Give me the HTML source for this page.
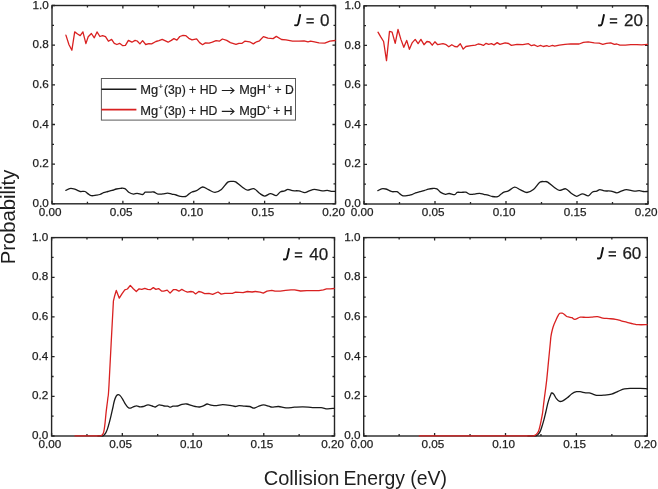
<!DOCTYPE html><html><head><meta charset="utf-8"><style>html,body{margin:0;padding:0;background:#fff;}svg{display:block;will-change:transform;} text{font-family:"Liberation Sans", sans-serif;fill:#1e1e1e;} .tl{stroke:#1e1e1e;stroke-width:0.25px;} .lg{stroke:#1e1e1e;stroke-width:0.2px;}</style></head><body>
<svg width="658" height="489" viewBox="0 0 658 489">
<rect width="658" height="489" fill="#fff"/>
<path d="M52.00 203.80v-3.00M52.00 5.50v3.00M87.44 203.80v-2.00M87.44 5.50v2.00M122.88 203.80v-3.00M122.88 5.50v3.00M158.31 203.80v-2.00M158.31 5.50v2.00M193.75 203.80v-3.00M193.75 5.50v3.00M229.19 203.80v-2.00M229.19 5.50v2.00M264.62 203.80v-3.00M264.62 5.50v3.00M300.06 203.80v-2.00M300.06 5.50v2.00M335.50 203.80v-3.00M335.50 5.50v3.00M52.00 203.80h3.00M335.50 203.80h-3.00M52.00 183.97h2.00M335.50 183.97h-2.00M52.00 164.14h3.00M335.50 164.14h-3.00M52.00 144.31h2.00M335.50 144.31h-2.00M52.00 124.48h3.00M335.50 124.48h-3.00M52.00 104.65h2.00M335.50 104.65h-2.00M52.00 84.82h3.00M335.50 84.82h-3.00M52.00 64.99h2.00M335.50 64.99h-2.00M52.00 45.16h3.00M335.50 45.16h-3.00M52.00 25.33h2.00M335.50 25.33h-2.00M52.00 5.50h3.00M335.50 5.50h-3.00" stroke="#252525" stroke-width="1.3" fill="none"/>
<rect x="52.00" y="5.50" width="283.50" height="198.30" fill="none" stroke="#252525" stroke-width="1.40"/>
<path d="M65.90 190.40C66.52 190.10 68.28 188.87 69.60 188.60C70.92 188.33 72.57 188.55 73.80 188.80C75.03 189.05 75.93 189.65 77.00 190.10C78.07 190.55 78.87 191.27 80.20 191.50C81.53 191.73 83.67 191.10 85.00 191.50C86.33 191.90 87.13 193.20 88.20 193.90C89.27 194.60 90.07 195.48 91.40 195.70C92.73 195.92 94.78 195.40 96.20 195.20C97.62 195.00 98.67 194.93 99.90 194.50C101.13 194.07 102.27 193.10 103.60 192.60C104.93 192.10 106.48 191.87 107.90 191.50C109.32 191.13 110.68 190.82 112.10 190.40C113.52 189.98 114.98 189.35 116.40 189.00C117.82 188.65 119.18 188.37 120.60 188.30C122.02 188.23 123.55 187.95 124.90 188.60C126.25 189.25 127.27 191.28 128.70 192.20C130.13 193.12 132.08 193.92 133.50 194.10C134.92 194.28 135.68 193.23 137.20 193.30C138.72 193.37 141.27 194.68 142.60 194.50C143.93 194.32 144.05 192.58 145.20 192.20C146.35 191.82 148.08 192.23 149.50 192.20C150.92 192.17 152.28 191.68 153.70 192.00C155.12 192.32 156.48 193.78 158.00 194.10C159.52 194.42 161.20 194.07 162.80 193.90C164.40 193.73 166.10 193.07 167.60 193.10C169.10 193.13 170.38 193.78 171.80 194.10C173.22 194.42 174.68 194.63 176.10 195.00C177.52 195.37 178.72 196.05 180.30 196.30C181.88 196.55 184.18 196.87 185.60 196.50C187.02 196.13 187.73 194.85 188.80 194.10C189.87 193.35 190.73 192.57 192.00 192.00C193.27 191.43 194.63 191.53 196.40 190.70C198.17 189.87 200.57 187.17 202.60 187.00C204.63 186.83 206.53 188.82 208.60 189.70C210.67 190.58 212.87 192.35 215.00 192.30C217.13 192.25 219.27 191.10 221.40 189.40C223.53 187.70 225.93 183.43 227.80 182.10C229.67 180.77 231.28 181.43 232.60 181.40C233.92 181.37 234.12 180.97 235.70 181.90C237.28 182.83 240.15 185.62 242.10 187.00C244.05 188.38 245.45 189.93 247.40 190.20C249.35 190.47 251.78 188.08 253.80 188.60C255.82 189.12 257.68 192.05 259.50 193.30C261.32 194.55 262.87 196.05 264.70 196.10C266.53 196.15 268.57 193.68 270.50 193.60C272.43 193.52 274.68 195.87 276.30 195.60C277.92 195.33 278.80 192.78 280.20 192.00C281.60 191.22 283.42 191.33 284.70 190.90C285.98 190.47 286.60 189.43 287.90 189.40C289.20 189.37 290.67 190.45 292.50 190.70C294.33 190.95 296.87 190.58 298.90 190.90C300.93 191.22 302.97 192.60 304.70 192.60C306.43 192.60 307.68 191.43 309.30 190.90C310.92 190.37 312.25 189.40 314.40 189.40C316.55 189.40 320.05 190.73 322.20 190.90C324.35 191.07 325.80 190.33 327.30 190.40C328.80 190.47 329.85 191.15 331.20 191.30C332.55 191.45 334.70 191.30 335.40 191.30" fill="none" stroke="#1a1a1a" stroke-width="1.30" stroke-linejoin="round" stroke-linecap="round"/>
<polyline points="65.9,35.1 69.0,44.7 71.9,50.2 74.7,31.9 77.6,34.0 80.2,35.6 82.9,31.9 85.9,43.6 88.2,36.7 91.4,33.5 94.3,37.8 97.0,31.9 99.9,36.5 102.6,35.6 105.5,36.7 108.4,41.2 111.6,39.4 114.3,43.3 116.9,44.5 119.6,43.3 122.8,45.7 125.4,45.4 128.4,40.4 131.9,42.2 135.1,40.4 137.2,41.0 139.9,43.9 142.6,40.7 145.7,44.5 148.9,43.6 151.6,43.9 155.9,41.5 159.0,40.7 162.2,39.4 164.9,40.7 168.1,42.2 171.3,40.4 173.9,38.6 176.9,40.1 179.8,36.5 183.0,35.4 185.6,35.6 188.8,38.3 192.0,39.9 196.6,38.8 199.6,42.6 202.6,44.7 205.4,42.9 209.1,43.1 212.3,42.2 216.1,40.7 219.3,41.2 222.4,39.0 226.7,40.4 230.4,42.6 236.0,44.4 238.9,43.3 242.1,43.3 244.8,41.2 249.6,41.8 253.3,43.9 256.5,41.8 259.5,40.8 263.4,36.6 267.9,38.2 273.1,38.6 276.3,36.4 281.5,39.5 286.0,39.9 292.5,41.1 298.9,41.1 304.1,40.8 308.0,41.8 310.6,41.1 314.4,41.8 319.0,42.8 324.8,43.1 329.9,41.1 335.1,40.5" fill="none" stroke="#d92121" stroke-width="1.30" stroke-linejoin="round" stroke-linecap="round"/>
<text class="tl" x="48.70" y="206.90" font-size="11.7" text-anchor="end">0.0</text>
<text class="tl" x="48.70" y="167.24" font-size="11.7" text-anchor="end">0.2</text>
<text class="tl" x="48.70" y="127.58" font-size="11.7" text-anchor="end">0.4</text>
<text class="tl" x="48.70" y="87.92" font-size="11.7" text-anchor="end">0.6</text>
<text class="tl" x="48.70" y="48.26" font-size="11.7" text-anchor="end">0.8</text>
<text class="tl" x="48.70" y="8.60" font-size="11.7" text-anchor="end">1.0</text>
<text class="tl" x="50.20" y="216.10" font-size="11.7" text-anchor="middle">0.00</text>
<text class="tl" x="121.08" y="216.10" font-size="11.7" text-anchor="middle">0.05</text>
<text class="tl" x="191.95" y="216.10" font-size="11.7" text-anchor="middle">0.10</text>
<text class="tl" x="262.82" y="216.10" font-size="11.7" text-anchor="middle">0.15</text>
<text class="tl" x="333.70" y="216.10" font-size="11.7" text-anchor="middle">0.20</text>
<path d="M364.00 204.00v-3.00M364.00 5.80v3.00M399.50 204.00v-2.00M399.50 5.80v2.00M435.00 204.00v-3.00M435.00 5.80v3.00M470.50 204.00v-2.00M470.50 5.80v2.00M506.00 204.00v-3.00M506.00 5.80v3.00M541.50 204.00v-2.00M541.50 5.80v2.00M577.00 204.00v-3.00M577.00 5.80v3.00M612.50 204.00v-2.00M612.50 5.80v2.00M648.00 204.00v-3.00M648.00 5.80v3.00M364.00 204.00h3.00M648.00 204.00h-3.00M364.00 184.18h2.00M648.00 184.18h-2.00M364.00 164.36h3.00M648.00 164.36h-3.00M364.00 144.54h2.00M648.00 144.54h-2.00M364.00 124.72h3.00M648.00 124.72h-3.00M364.00 104.90h2.00M648.00 104.90h-2.00M364.00 85.08h3.00M648.00 85.08h-3.00M364.00 65.26h2.00M648.00 65.26h-2.00M364.00 45.44h3.00M648.00 45.44h-3.00M364.00 25.62h2.00M648.00 25.62h-2.00M364.00 5.80h3.00M648.00 5.80h-3.00" stroke="#252525" stroke-width="1.3" fill="none"/>
<rect x="364.00" y="5.80" width="284.00" height="198.20" fill="none" stroke="#252525" stroke-width="1.40"/>
<path d="M377.90 190.60C378.52 190.30 380.28 189.07 381.60 188.80C382.92 188.53 384.57 188.75 385.80 189.00C387.03 189.25 387.93 189.85 389.00 190.30C390.07 190.75 390.87 191.47 392.20 191.70C393.53 191.93 395.67 191.30 397.00 191.70C398.33 192.10 399.13 193.40 400.20 194.10C401.27 194.80 402.07 195.68 403.40 195.90C404.73 196.12 406.78 195.60 408.20 195.40C409.62 195.20 410.67 195.13 411.90 194.70C413.13 194.27 414.27 193.30 415.60 192.80C416.93 192.30 418.48 192.07 419.90 191.70C421.32 191.33 422.68 191.02 424.10 190.60C425.52 190.18 426.98 189.55 428.40 189.20C429.82 188.85 431.18 188.57 432.60 188.50C434.02 188.43 435.55 188.15 436.90 188.80C438.25 189.45 439.27 191.48 440.70 192.40C442.13 193.32 444.08 194.12 445.50 194.30C446.92 194.48 447.68 193.43 449.20 193.50C450.72 193.57 453.27 194.88 454.60 194.70C455.93 194.52 456.05 192.78 457.20 192.40C458.35 192.02 460.08 192.43 461.50 192.40C462.92 192.37 464.28 191.88 465.70 192.20C467.12 192.52 468.48 193.98 470.00 194.30C471.52 194.62 473.20 194.27 474.80 194.10C476.40 193.93 478.10 193.27 479.60 193.30C481.10 193.33 482.38 193.98 483.80 194.30C485.22 194.62 486.68 194.83 488.10 195.20C489.52 195.57 490.72 196.25 492.30 196.50C493.88 196.75 496.18 197.07 497.60 196.70C499.02 196.33 499.73 195.05 500.80 194.30C501.87 193.55 502.73 192.77 504.00 192.20C505.27 191.63 506.63 191.73 508.40 190.90C510.17 190.07 512.57 187.37 514.60 187.20C516.63 187.03 518.53 189.02 520.60 189.90C522.67 190.78 524.87 192.55 527.00 192.50C529.13 192.45 531.27 191.30 533.40 189.60C535.53 187.90 537.93 183.63 539.80 182.30C541.67 180.97 543.28 181.63 544.60 181.60C545.92 181.57 546.12 181.17 547.70 182.10C549.28 183.03 552.15 185.82 554.10 187.20C556.05 188.58 557.45 190.13 559.40 190.40C561.35 190.67 563.78 188.28 565.80 188.80C567.82 189.32 569.68 192.25 571.50 193.50C573.32 194.75 574.87 196.25 576.70 196.30C578.53 196.35 580.57 193.88 582.50 193.80C584.43 193.72 586.68 196.07 588.30 195.80C589.92 195.53 590.80 192.98 592.20 192.20C593.60 191.42 595.42 191.53 596.70 191.10C597.98 190.67 598.60 189.63 599.90 189.60C601.20 189.57 602.67 190.65 604.50 190.90C606.33 191.15 608.87 190.78 610.90 191.10C612.93 191.42 614.97 192.80 616.70 192.80C618.43 192.80 619.68 191.63 621.30 191.10C622.92 190.57 624.25 189.60 626.40 189.60C628.55 189.60 632.05 190.93 634.20 191.10C636.35 191.27 637.80 190.53 639.30 190.60C640.80 190.67 641.85 191.35 643.20 191.50C644.55 191.65 646.70 191.50 647.40 191.50" fill="none" stroke="#1a1a1a" stroke-width="1.30" stroke-linejoin="round" stroke-linecap="round"/>
<polyline points="378.0,32.2 380.6,36.7 383.6,41.5 386.5,60.6 389.5,31.4 392.1,32.2 395.2,43.3 398.0,29.5 400.9,39.4 403.8,47.3 406.7,40.4 409.4,49.3 412.3,42.6 415.2,39.4 418.1,43.6 420.9,39.4 424.0,44.7 426.9,41.5 429.6,42.0 432.2,45.2 434.9,41.8 437.7,44.7 443.0,43.6 446.2,44.7 448.8,46.8 451.8,44.7 454.7,46.5 457.3,46.8 460.3,43.8 463.2,49.1 465.9,46.5 471.2,45.7 475.4,45.1 478.1,44.0 480.7,44.4 483.4,45.4 486.1,43.3 488.7,44.4 491.4,43.6 494.0,44.9 497.2,42.6 499.9,44.4 505.1,42.8 508.6,43.5 511.4,45.4 517.1,44.3 522.8,44.6 528.5,43.7 531.4,45.7 534.2,44.8 537.6,46.5 540.5,45.4 543.3,46.5 546.8,45.7 549.0,46.5 552.5,45.4 554.7,46.2 559.3,45.1 565.0,44.3 570.7,43.9 579.1,44.0 583.4,42.4 588.2,41.9 594.3,42.8 599.2,43.1 602.8,44.3 606.5,43.4 610.7,42.8 614.4,44.3 616.8,44.0 619.8,45.2 625.3,45.2 630.8,44.6 636.9,44.6 641.7,44.8 647.5,44.3" fill="none" stroke="#d92121" stroke-width="1.30" stroke-linejoin="round" stroke-linecap="round"/>
<text class="tl" x="360.70" y="207.10" font-size="11.7" text-anchor="end">0.0</text>
<text class="tl" x="360.70" y="167.46" font-size="11.7" text-anchor="end">0.2</text>
<text class="tl" x="360.70" y="127.82" font-size="11.7" text-anchor="end">0.4</text>
<text class="tl" x="360.70" y="88.18" font-size="11.7" text-anchor="end">0.6</text>
<text class="tl" x="360.70" y="48.54" font-size="11.7" text-anchor="end">0.8</text>
<text class="tl" x="360.70" y="8.90" font-size="11.7" text-anchor="end">1.0</text>
<text class="tl" x="362.20" y="216.30" font-size="11.7" text-anchor="middle">0.00</text>
<text class="tl" x="433.20" y="216.30" font-size="11.7" text-anchor="middle">0.05</text>
<text class="tl" x="504.20" y="216.30" font-size="11.7" text-anchor="middle">0.10</text>
<text class="tl" x="575.20" y="216.30" font-size="11.7" text-anchor="middle">0.15</text>
<text class="tl" x="646.20" y="216.30" font-size="11.7" text-anchor="middle">0.20</text>
<path d="M51.60 436.00v-3.00M51.60 237.60v3.00M86.96 436.00v-2.00M86.96 237.60v2.00M122.32 436.00v-3.00M122.32 237.60v3.00M157.69 436.00v-2.00M157.69 237.60v2.00M193.05 436.00v-3.00M193.05 237.60v3.00M228.41 436.00v-2.00M228.41 237.60v2.00M263.78 436.00v-3.00M263.78 237.60v3.00M299.14 436.00v-2.00M299.14 237.60v2.00M334.50 436.00v-3.00M334.50 237.60v3.00M51.60 436.00h3.00M334.50 436.00h-3.00M51.60 416.16h2.00M334.50 416.16h-2.00M51.60 396.32h3.00M334.50 396.32h-3.00M51.60 376.48h2.00M334.50 376.48h-2.00M51.60 356.64h3.00M334.50 356.64h-3.00M51.60 336.80h2.00M334.50 336.80h-2.00M51.60 316.96h3.00M334.50 316.96h-3.00M51.60 297.12h2.00M334.50 297.12h-2.00M51.60 277.28h3.00M334.50 277.28h-3.00M51.60 257.44h2.00M334.50 257.44h-2.00M51.60 237.60h3.00M334.50 237.60h-3.00" stroke="#252525" stroke-width="1.3" fill="none"/>
<rect x="51.60" y="237.60" width="282.90" height="198.40" fill="none" stroke="#252525" stroke-width="1.40"/>
<path d="M98.00 435.90C98.42 435.90 99.83 435.90 100.50 435.90C101.17 435.90 101.53 435.92 102.00 435.90C102.47 435.88 102.70 436.25 103.30 435.80C103.90 435.35 104.92 434.32 105.60 433.20C106.28 432.08 106.78 430.87 107.40 429.10C108.02 427.33 108.68 424.90 109.30 422.60C109.92 420.30 110.48 417.90 111.10 415.30C111.72 412.70 112.47 409.38 113.00 407.00C113.53 404.62 113.77 402.80 114.30 401.00C114.83 399.20 115.58 397.27 116.20 396.20C116.82 395.13 117.38 394.73 118.00 394.60C118.62 394.47 119.13 394.65 119.90 395.40C120.67 396.15 121.68 397.63 122.60 399.10C123.52 400.57 124.48 402.82 125.40 404.20C126.32 405.58 127.25 406.75 128.10 407.40C128.95 408.05 129.55 408.23 130.50 408.10C131.45 407.97 132.78 406.98 133.80 406.60C134.82 406.22 135.57 405.77 136.60 405.80C137.63 405.83 138.90 406.68 140.00 406.80C141.10 406.92 141.87 406.82 143.20 406.50C144.53 406.18 146.50 404.98 148.00 404.90C149.50 404.82 150.97 405.65 152.20 406.00C153.43 406.35 154.25 407.18 155.40 407.00C156.55 406.82 157.68 405.07 159.10 404.90C160.52 404.73 162.47 405.78 163.90 406.00C165.33 406.22 166.63 406.00 167.70 406.20C168.77 406.40 169.42 407.20 170.30 407.20C171.18 407.20 171.75 406.40 173.00 406.20C174.25 406.00 176.30 406.30 177.80 406.00C179.30 405.70 180.50 404.73 182.00 404.40C183.50 404.07 185.28 403.83 186.80 404.00C188.32 404.17 189.68 404.98 191.10 405.40C192.52 405.82 193.88 406.23 195.30 406.50C196.72 406.77 198.18 407.13 199.60 407.00C201.02 406.87 202.55 406.20 203.80 405.70C205.05 405.20 205.92 404.10 207.10 404.00C208.28 403.90 209.30 404.82 210.90 405.10C212.50 405.38 214.75 405.77 216.70 405.70C218.65 405.63 220.38 404.75 222.60 404.70C224.82 404.65 227.88 405.10 230.00 405.40C232.12 405.70 233.80 406.45 235.30 406.50C236.80 406.55 237.48 405.75 239.00 405.70C240.52 405.65 242.62 406.07 244.40 406.20C246.18 406.33 248.12 406.18 249.70 406.50C251.28 406.82 252.48 408.10 253.90 408.10C255.32 408.10 256.60 407.03 258.20 406.50C259.80 405.97 261.73 404.95 263.50 404.90C265.27 404.85 267.38 405.82 268.80 406.20C270.22 406.58 270.38 407.15 272.00 407.20C273.62 407.25 276.17 406.38 278.50 406.50C280.83 406.62 283.33 407.78 286.00 407.90C288.67 408.02 291.67 407.38 294.50 407.20C297.33 407.02 299.98 406.73 303.00 406.80C306.02 406.87 309.58 407.47 312.60 407.60C315.62 407.73 318.63 407.38 321.10 407.60C323.57 407.82 325.22 408.78 327.40 408.90C329.58 409.02 333.07 408.40 334.20 408.30" fill="none" stroke="#1a1a1a" stroke-width="1.30" stroke-linejoin="round" stroke-linecap="round"/>
<path d="M75.00 435.90C78.33 435.90 90.92 435.92 95.00 435.90C99.08 435.88 98.43 435.87 99.50 435.80C100.57 435.73 100.77 435.93 101.40 435.50C102.03 435.07 102.83 434.20 103.30 433.20C103.77 432.20 103.90 431.27 104.20 429.50C104.50 427.73 104.80 425.28 105.10 422.60C105.40 419.92 105.68 416.32 106.00 413.40C106.32 410.48 106.68 407.70 107.00 405.10C107.32 402.50 107.57 401.15 107.90 397.80C108.23 394.45 108.08 401.10 109.00 385.00C109.92 368.90 112.45 316.08 113.40 301.20L114.70 295.70L116.30 290.40L119.30 298.20L122.10 293.60L124.80 289.90L127.40 289.00L130.30 285.40L133.30 288.80L136.30 291.50L139.10 288.80L141.80 289.40L144.80 288.30L147.70 289.40L150.30 289.70L153.30 287.60L155.90 289.40L158.60 288.60L161.50 291.00L163.70 291.20L167.20 290.10L170.10 293.10L173.30 289.70L176.00 289.70L178.90 291.20L181.80 289.40L184.70 291.00L187.40 292.20L190.90 291.50L193.00 291.80L195.60 293.90L198.80 291.50L201.50 292.20L204.70 293.60L208.90 293.30L212.70 294.40L218.00 292.00L221.20 294.10L224.90 293.30L232.40 293.30L235.60 292.20L243.10 292.60L247.30 291.50L252.10 292.00L255.30 291.50L260.10 292.20L263.30 293.10L267.00 291.20L271.80 290.40L275.00 291.20L280.30 291.20L285.60 290.40L291.00 289.90L294.60 289.80L300.60 291.00L306.70 290.60L312.80 290.60L318.90 290.60L323.40 289.80L326.50 288.80L330.30 288.80L334.20 288.50" fill="none" stroke="#d92121" stroke-width="1.30" stroke-linejoin="round" stroke-linecap="round"/>
<text class="tl" x="48.30" y="439.10" font-size="11.7" text-anchor="end">0.0</text>
<text class="tl" x="48.30" y="399.42" font-size="11.7" text-anchor="end">0.2</text>
<text class="tl" x="48.30" y="359.74" font-size="11.7" text-anchor="end">0.4</text>
<text class="tl" x="48.30" y="320.06" font-size="11.7" text-anchor="end">0.6</text>
<text class="tl" x="48.30" y="280.38" font-size="11.7" text-anchor="end">0.8</text>
<text class="tl" x="48.30" y="240.70" font-size="11.7" text-anchor="end">1.0</text>
<text class="tl" x="49.80" y="448.30" font-size="11.7" text-anchor="middle">0.00</text>
<text class="tl" x="120.52" y="448.30" font-size="11.7" text-anchor="middle">0.05</text>
<text class="tl" x="191.25" y="448.30" font-size="11.7" text-anchor="middle">0.10</text>
<text class="tl" x="261.98" y="448.30" font-size="11.7" text-anchor="middle">0.15</text>
<text class="tl" x="332.70" y="448.30" font-size="11.7" text-anchor="middle">0.20</text>
<path d="M363.70 436.00v-3.00M363.70 237.60v3.00M399.15 436.00v-2.00M399.15 237.60v2.00M434.60 436.00v-3.00M434.60 237.60v3.00M470.05 436.00v-2.00M470.05 237.60v2.00M505.50 436.00v-3.00M505.50 237.60v3.00M540.95 436.00v-2.00M540.95 237.60v2.00M576.40 436.00v-3.00M576.40 237.60v3.00M611.85 436.00v-2.00M611.85 237.60v2.00M647.30 436.00v-3.00M647.30 237.60v3.00M363.70 436.00h3.00M647.30 436.00h-3.00M363.70 416.16h2.00M647.30 416.16h-2.00M363.70 396.32h3.00M647.30 396.32h-3.00M363.70 376.48h2.00M647.30 376.48h-2.00M363.70 356.64h3.00M647.30 356.64h-3.00M363.70 336.80h2.00M647.30 336.80h-2.00M363.70 316.96h3.00M647.30 316.96h-3.00M363.70 297.12h2.00M647.30 297.12h-2.00M363.70 277.28h3.00M647.30 277.28h-3.00M363.70 257.44h2.00M647.30 257.44h-2.00M363.70 237.60h3.00M647.30 237.60h-3.00" stroke="#252525" stroke-width="1.3" fill="none"/>
<rect x="363.70" y="237.60" width="283.60" height="198.40" fill="none" stroke="#252525" stroke-width="1.40"/>
<path d="M528.00 435.90C528.67 435.90 530.92 435.90 532.00 435.90C533.08 435.90 533.83 435.92 534.50 435.90C535.17 435.88 535.43 436.02 536.00 435.80C536.57 435.58 537.20 435.33 537.90 434.60C538.60 433.87 539.52 432.78 540.20 431.40C540.88 430.02 541.38 428.22 542.00 426.30C542.62 424.38 543.28 422.20 543.90 419.90C544.52 417.60 545.08 415.12 545.70 412.50C546.32 409.88 547.07 406.35 547.60 404.20C548.13 402.05 548.37 401.22 548.90 399.60C549.43 397.98 550.35 395.60 550.80 394.50C551.25 393.40 551.12 393.07 551.60 393.00C552.08 392.93 552.90 393.15 553.70 394.10C554.50 395.05 555.42 397.48 556.40 398.70C557.38 399.92 558.53 401.05 559.60 401.40C560.67 401.75 561.52 401.40 562.80 400.80C564.08 400.20 565.78 398.98 567.30 397.80C568.82 396.62 570.37 394.72 571.90 393.70C573.43 392.68 575.13 392.03 576.50 391.70C577.87 391.37 578.58 391.52 580.10 391.70C581.62 391.88 584.08 392.60 585.60 392.80C587.12 393.00 587.98 392.68 589.20 392.90C590.42 393.12 591.68 393.70 592.90 394.10C594.12 394.50 595.32 395.10 596.50 395.30C597.68 395.50 598.78 395.32 600.00 395.30C601.22 395.28 601.88 395.38 603.80 395.20C605.72 395.02 609.13 394.83 611.50 394.20C613.87 393.57 615.85 392.30 618.00 391.40C620.15 390.50 622.03 389.30 624.40 388.80C626.77 388.30 629.62 388.47 632.20 388.40C634.78 388.33 637.43 388.33 639.90 388.40C642.37 388.47 645.82 388.73 647.00 388.80" fill="none" stroke="#1a1a1a" stroke-width="1.30" stroke-linejoin="round" stroke-linecap="round"/>
<path d="M419.30 435.90C432.75 435.90 481.55 435.90 500.00 435.90C518.45 435.90 524.58 435.92 530.00 435.90C535.42 435.88 531.80 435.85 532.50 435.80C533.20 435.75 533.53 435.88 534.20 435.60C534.87 435.32 535.80 434.80 536.50 434.10C537.20 433.40 537.87 432.55 538.40 431.40C538.93 430.25 539.25 428.97 539.70 427.20C540.15 425.43 540.63 423.10 541.10 420.80C541.57 418.50 542.12 415.87 542.50 413.40C542.88 410.93 543.10 408.45 543.40 406.00C543.70 403.55 543.77 402.88 544.30 398.70C544.83 394.52 545.88 387.28 546.60 380.90C547.32 374.52 547.98 366.72 548.60 360.40C549.22 354.08 549.90 347.05 550.30 343.00C550.70 338.95 550.65 338.35 551.00 336.10C551.35 333.85 551.90 331.42 552.40 329.50C552.90 327.58 553.38 326.23 554.00 324.60C554.62 322.97 555.42 321.20 556.10 319.70C556.78 318.20 557.48 316.67 558.10 315.60C558.72 314.53 559.12 313.70 559.80 313.30C560.48 312.90 561.45 313.02 562.20 313.20C562.95 313.38 563.55 313.85 564.30 314.40C565.05 314.95 565.88 316.05 566.70 316.50C567.52 316.95 568.32 316.90 569.20 317.10C570.08 317.30 571.05 317.33 572.00 317.70C572.95 318.07 573.52 319.38 574.90 319.30C576.28 319.22 578.48 317.52 580.30 317.20C582.12 316.88 583.97 317.40 585.80 317.40C587.63 317.40 589.37 317.33 591.30 317.20C593.23 317.07 595.48 316.45 597.40 316.60C599.32 316.75 600.88 317.77 602.80 318.10C604.72 318.43 606.77 318.40 608.90 318.60C611.03 318.80 613.57 318.93 615.60 319.30C617.63 319.67 619.18 320.30 621.10 320.80C623.02 321.30 625.08 321.80 627.10 322.30C629.12 322.80 631.37 323.40 633.20 323.80C635.03 324.20 635.80 324.55 638.10 324.70C640.40 324.85 645.52 324.70 647.00 324.70" fill="none" stroke="#d92121" stroke-width="1.30" stroke-linejoin="round" stroke-linecap="round"/>
<text class="tl" x="360.40" y="439.10" font-size="11.7" text-anchor="end">0.0</text>
<text class="tl" x="360.40" y="399.42" font-size="11.7" text-anchor="end">0.2</text>
<text class="tl" x="360.40" y="359.74" font-size="11.7" text-anchor="end">0.4</text>
<text class="tl" x="360.40" y="320.06" font-size="11.7" text-anchor="end">0.6</text>
<text class="tl" x="360.40" y="280.38" font-size="11.7" text-anchor="end">0.8</text>
<text class="tl" x="360.40" y="240.70" font-size="11.7" text-anchor="end">1.0</text>
<text class="tl" x="361.90" y="448.30" font-size="11.7" text-anchor="middle">0.00</text>
<text class="tl" x="432.80" y="448.30" font-size="11.7" text-anchor="middle">0.05</text>
<text class="tl" x="503.70" y="448.30" font-size="11.7" text-anchor="middle">0.10</text>
<text class="tl" x="574.60" y="448.30" font-size="11.7" text-anchor="middle">0.15</text>
<text class="tl" x="645.50" y="448.30" font-size="11.7" text-anchor="middle">0.20</text>
<path d="M300.30 14.10L298.30 23.40Q297.70 25.50 296.00 25.40L294.30 25.10" fill="none" stroke="#111" stroke-width="1.9"/><path d="M306.40 18.90h7.4M306.40 22.70h7.4" stroke="#1e1e1e" stroke-width="1.45" fill="none"/><text class="tl" x="329.50" y="26.20" font-size="17.0" text-anchor="end">0</text>
<path d="M604.10 14.20L602.10 23.50Q601.50 25.60 599.80 25.50L598.10 25.20" fill="none" stroke="#111" stroke-width="1.9"/><path d="M609.80 19.00h7.4M609.80 22.80h7.4" stroke="#1e1e1e" stroke-width="1.45" fill="none"/><text class="tl" x="642.90" y="26.30" font-size="17.0" text-anchor="end">20</text>
<path d="M289.10 248.20L287.10 257.50Q286.50 259.60 284.80 259.50L283.10 259.20" fill="none" stroke="#111" stroke-width="1.9"/><path d="M294.80 253.00h7.4M294.80 256.80h7.4" stroke="#1e1e1e" stroke-width="1.45" fill="none"/><text class="tl" x="328.10" y="260.30" font-size="17.0" text-anchor="end">40</text>
<path d="M603.10 247.20L601.10 256.50Q600.50 258.60 598.80 258.50L597.10 258.20" fill="none" stroke="#111" stroke-width="1.9"/><path d="M608.60 252.00h7.4M608.60 255.80h7.4" stroke="#1e1e1e" stroke-width="1.45" fill="none"/><text class="tl" x="641.30" y="259.30" font-size="17.0" text-anchor="end">60</text>
<text x="0" y="0" font-size="19.5" textLength="94.5" lengthAdjust="spacingAndGlyphs" transform="translate(14.9,264.2) rotate(-90)">Probability</text>
<text x="263.7" y="485.1" font-size="19.8" textLength="75.8" lengthAdjust="spacingAndGlyphs">Collision</text><text x="343.4" y="485.1" font-size="19.8" textLength="103.6" lengthAdjust="spacingAndGlyphs">Energy (eV)</text>
<rect x="101.4" y="78.5" width="194.1" height="41.6" fill="#fff" stroke="#5a5a5a" stroke-width="1"/>
<line x1="101.4" y1="89.2" x2="136.4" y2="89.2" stroke="#1a1a1a" stroke-width="1.6"/>
<line x1="101.4" y1="109.6" x2="136.4" y2="109.6" stroke="#d92121" stroke-width="1.6"/>
<text class="lg" x="140.3" y="93.90" font-size="12.4" textLength="17.9" lengthAdjust="spacingAndGlyphs">Mg</text><text class="lg" x="158.6" y="88.60" font-size="7.9">+</text><text class="lg" x="164.0" y="93.90" font-size="12.4" textLength="53.3" lengthAdjust="spacingAndGlyphs">(3p) + HD</text><path d="M221.8 90.50H233.6M230.4 87.30L234.0 90.50L230.4 93.70" fill="none" stroke="#1e1e1e" stroke-width="1.1" stroke-linejoin="miter"/><text class="lg" x="239.2" y="93.90" font-size="12.4" textLength="26.8" lengthAdjust="spacingAndGlyphs">MgH</text><text class="lg" x="267.0" y="88.60" font-size="7.9">+</text><text class="lg" x="274.5" y="93.90" font-size="12.4" textLength="19.3" lengthAdjust="spacingAndGlyphs">+ D</text>
<text class="lg" x="140.3" y="114.80" font-size="12.4" textLength="17.9" lengthAdjust="spacingAndGlyphs">Mg</text><text class="lg" x="158.6" y="109.50" font-size="7.9">+</text><text class="lg" x="164.0" y="114.80" font-size="12.4" textLength="53.3" lengthAdjust="spacingAndGlyphs">(3p) + HD</text><path d="M221.8 111.40H233.6M230.4 108.20L234.0 111.40L230.4 114.60" fill="none" stroke="#1e1e1e" stroke-width="1.1" stroke-linejoin="miter"/><text class="lg" x="239.2" y="114.80" font-size="12.4" textLength="26.8" lengthAdjust="spacingAndGlyphs">MgD</text><text class="lg" x="266.1" y="109.50" font-size="7.9">+</text><text class="lg" x="273.3" y="114.80" font-size="12.4" textLength="19.2" lengthAdjust="spacingAndGlyphs">+ H</text>
</svg></body></html>
